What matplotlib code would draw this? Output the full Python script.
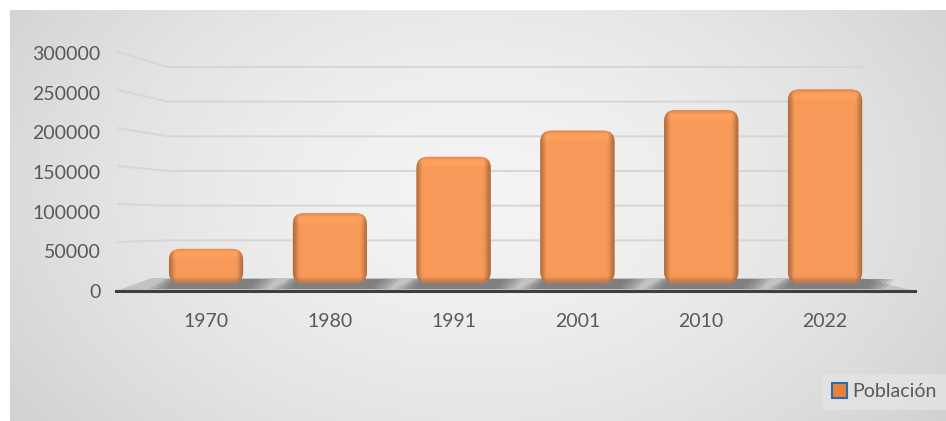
#!/usr/bin/env python3
import numpy as np
import matplotlib
matplotlib.use("Agg")
import matplotlib.pyplot as plt
from matplotlib.patches import FancyBboxPatch, Polygon, Patch
from matplotlib.transforms import ScaledTranslation

# data
years = ['1970', '1980', '1991', '2001', '2010', '2022']
poblacion = [43000, 88000, 159000, 192000, 218000, 244000]
yticks = [0, 50000, 100000, 150000, 200000, 250000, 300000]
serie = 'Población'

W, H, DPI = 946, 421, 100
PX_PER_UNIT = 123.8        # px per category
PX_PER_VAL = 238 / 300000  # px per person (front scale)

plt.rcParams['font.family'] = ['Lato', 'DejaVu Sans']

fig = plt.figure(figsize=(W / DPI, H / DPI), dpi=DPI, facecolor='white')

# background gradient panel (white margin top/left like the source)
bg = fig.add_axes([10 / W, 0, (W - 10) / W, (H - 10) / H], zorder=-10)
gx, gy = np.meshgrid(np.linspace(0, 1, 400), np.linspace(0, 1, 200))
r = np.sqrt(((gx - 0.5) / 0.62) ** 2 + ((gy - 0.55) / 0.95) ** 2)
t = np.clip(r, 0, 1) ** 1.6
light, dark = np.array([0.955, 0.955, 0.955]), np.array([0.82, 0.82, 0.82])
img = light[None, None, :] * (1 - t[..., None]) + dark[None, None, :] * t[..., None]
bg.imshow(img, origin='lower', extent=[0, 1, 0, 1], aspect='auto')
bg.axis('off')

# main axes, data zero at bar bottom (y=283 px)
ax_left, ax_right = 116, 915
y0_px = 283
ax_top = y0_px - 300000 * PX_PER_VAL
ax = fig.add_axes([ax_left / W, (H - y0_px) / H, (ax_right - ax_left) / W, (y0_px - ax_top) / H])
ax.set_facecolor('none')
ax.set_xlim(-(206 - ax_left) / PX_PER_UNIT, 5 + (ax_right - 825) / PX_PER_UNIT)
ax.set_ylim(0, 300000)


def px2x(px):
    return (px - 206) / PX_PER_UNIT


def px2y(py):
    return (y0_px - py) / PX_PER_VAL


def smooth(d):
    d = np.clip(d, 0, 1)
    return d * d * (3 - 2 * d)


# back wall gridlines with a bend on the side wall
for v in yticks[1:]:
    y_side = 280 - v * 0.00076
    y_back = 275 - v * 0.6933 / 1000
    ax.plot([px2x(118), px2x(168), px2x(862)], [px2y(y_side), px2y(y_back), px2y(y_back)],
            color='#d6d6d6', lw=1.4, zorder=1, clip_on=False)

# floor
floor = Polygon([(px2x(116), px2y(291)), (px2x(152), px2y(278)), (px2x(862), px2y(278)),
                 (px2x(915), px2y(291))], closed=True, facecolor='#c2c2c2', edgecolor='none',
                zorder=2, clip_on=False)
ax.add_patch(floor)

bars = ax.bar(range(len(years)), poblacion, width=0.6, color='none', edgecolor='none', zorder=3)

base = np.array([0.965, 0.6, 0.35])

for b in bars:
    x, w, h = b.get_x(), b.get_width(), b.get_height()
    # soft shadow on the floor, stacked layers
    for k in range(5):
        g = k * 0.035
        ax.add_patch(Polygon([(x - 0.02 - g, px2y(289)), (x + 0.04 - g * 0.5, px2y(279)),
                              (x + w + 0.12 + g, px2y(279)), (x + w + 0.04 + g, px2y(289))],
                             closed=True, facecolor='#555555', edgecolor='none', alpha=0.16,
                             zorder=2.5, clip_on=False))
    rx = 11 / PX_PER_UNIT
    ry = 11 / PX_PER_VAL
    patch = FancyBboxPatch((x, 0), w, h, boxstyle=f'round,pad=0,rounding_size={rx}',
                           mutation_aspect=ry / rx, facecolor=base, edgecolor='none', zorder=3)
    ax.add_patch(patch)
    wpx = w * PX_PER_UNIT
    hpx = h * PX_PER_VAL
    px_ = np.linspace(0, wpx, 80)
    py_ = np.linspace(0, hpx, 120)
    hprof = (0.74 + 0.26 * smooth(px_ / 7)) * (0.72 + 0.28 * smooth((wpx - px_) / 8))
    vprof = (0.8 + 0.2 * smooth(py_ / 7)) * (0.9 + 0.1 * smooth((hpx - py_) / 4))
    vprof = vprof + 0.05 * np.exp(-((hpx - py_ - 6) / 4) ** 2)
    shade = vprof[:, None] * hprof[None, :]
    col = np.clip(base[None, None, :] * shade[..., None], 0, 1)
    im = ax.imshow(col, origin='lower', extent=[x, x + w, 0, h], aspect='auto',
                   interpolation='bilinear', zorder=3.5)
    im.set_clip_path(patch)

for s in ['top', 'right', 'left']:
    ax.spines[s].set_visible(False)
ax.spines['bottom'].set_position(('outward', 8 * 72 / DPI))
ax.spines['bottom'].set_color('#3f3f3f')
ax.spines['bottom'].set_linewidth(2.2)
ax.spines['bottom'].set_zorder(4)

ax.set_xticks(range(len(years)))
ax.set_xticklabels(years)
ax.set_yticks(yticks)
ax.set_yticklabels([str(v) for v in yticks])
ax.tick_params(axis='x', length=0, pad=15.5, labelsize=14, labelcolor='#595959')
ax.tick_params(axis='y', length=0, pad=11, labelsize=14, labelcolor='#595959')
off = ScaledTranslation(0, -8 / DPI, fig.dpi_scale_trans)
for lbl in ax.get_yticklabels():
    lbl.set_transform(lbl.get_transform() + off)

leg = fig.legend(handles=[Patch(facecolor='#e8813e', edgecolor='#2f6aa8', lw=1.5, label=serie)],
                 loc='lower right', bbox_to_anchor=(1.0, 11 / H), borderaxespad=0,
                 fontsize=14, handlelength=0.75, handleheight=0.75, handletextpad=0.25,
                 frameon=True, fancybox=False, borderpad=0.5)
leg.get_frame().set_facecolor('#e4e4e4')
leg.get_frame().set_edgecolor('none')
for txt in leg.get_texts():
    txt.set_color('#595959')

fig.savefig('out.png', dpi=DPI, facecolor='white')
